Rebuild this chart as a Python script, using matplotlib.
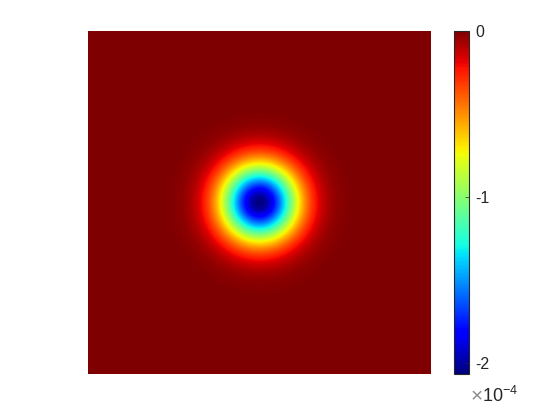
import numpy as np
import matplotlib.pyplot as plt

# field parameters
n_grid = 343            # samples per side
amplitude = -2.066e-4   # depth of the well (bottom of the colour bar)
sigma = 27.0            # gaussian width, in samples
cb_ticks = [0, -1e-4, -2e-4]
cb_labels = ['0', '-1', '-2']

idx = np.arange(n_grid) - (n_grid - 1) / 2
X, Y = np.meshgrid(idx, idx)
Z = amplitude * np.exp(-(X**2 + Y**2) / (2 * sigma**2))

plt.rcParams['font.family'] = ['Liberation Sans', 'DejaVu Sans']
plt.rcParams['mathtext.fontset'] = 'custom'
plt.rcParams['mathtext.rm'] = 'Liberation Sans'
plt.rcParams['mathtext.it'] = 'Liberation Sans'
fig = plt.figure(figsize=(5.6, 4.2), dpi=100)
ax = fig.add_axes([88/560, 1-374/420, 343/560, 343/420])
im = ax.imshow(Z, cmap='jet', vmin=amplitude, vmax=0, origin='lower',
               interpolation='nearest', aspect='auto')
ax.axis('off')

cax = fig.add_axes([453.5/560, 1-373.5/420, 15/560, 342.5/420])
cb = fig.colorbar(im, cax=cax, ticks=cb_ticks)
cb.ax.set_yticklabels(cb_labels)
cb.ax.tick_params(direction='in', length=3, width=0.5, colors='#262626',
                  labelsize=11.5, pad=5)
cb.outline.set_linewidth(0.8)
cb.outline.set_edgecolor('#262626')
fig.text(471/560, 1-397/420, '\u00d7', fontsize=15, color='#8c8c8c',
         ha='left', va='center')
fig.text(482/560, 1-396/420, r'10$^{\mathrm{-4}}$', fontsize=13, color='#262626',
         ha='left', va='center')

fig.savefig('out.png', dpi=100)
